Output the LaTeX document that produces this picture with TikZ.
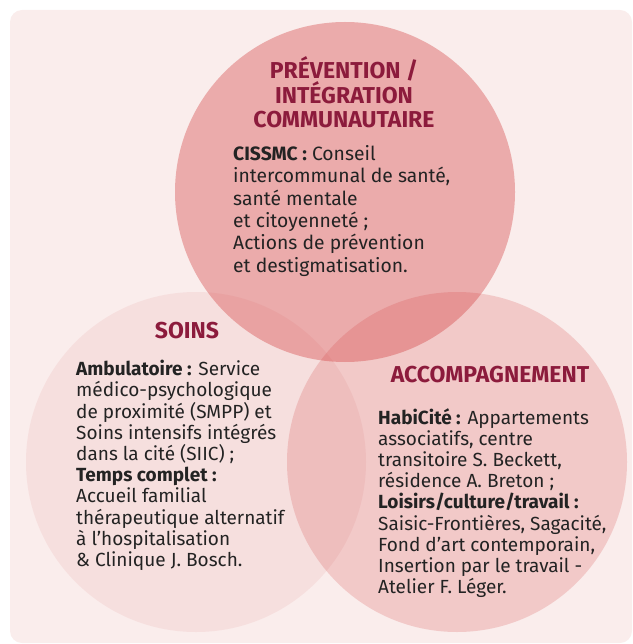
\documentclass[tikz,border=0pt]{standalone}
\usepackage{fontspec}
\setmainfont{Fira Sans}
\usetikzlibrary{positioning}
\definecolor{venn}{RGB}{210,60,60}
\definecolor{panelpink}{RGB}{250,237,236}
\definecolor{titlered}{RGB}{140,27,60}
\definecolor{bodytext}{RGB}{35,35,35}

\begin{document}
\begin{tikzpicture}[
    x=1pt, y=-1pt,
    zone/.style={circle, fill=venn, minimum size=340pt, inner sep=0pt},
    heading/.style={font=\bfseries\fontsize{23}{23.5}\selectfont, text=titlered, align=center, inner sep=0pt, anchor=north},
    body/.style={font=\fontsize{19.3}{22.4}\selectfont, text=bodytext, align=left, inner sep=0pt, anchor=north west},
    tight/.style={font=\fontsize{19}{21.2}\selectfont}
  ]
  \useasboundingbox (0,0) rectangle (632,644);

  % Panel
  \fill[panelpink, rounded corners=12pt] (10,10) rectangle (632,643);

  % Circles
  \node[zone, fill opacity=0.37] (prev) at (345,192) {};
  \node[zone, fill opacity=0.08] (soins) at (196,462) {};
  \node[zone, fill opacity=0.20] (accomp) at (457,462) {};

  % Prevention
  \node[heading] (prevtitle) at (344,56) {PRÉVENTION /\\INTÉGRATION\\COMMUNAUTAIRE};
  \node[body] (prevtext) at (233,145) {\textbf{CISSMC :} Conseil\\
    intercommunal de santé,\\
    santé mentale\\
    et citoyenneté ;\\
    Actions de prévention\\
    et destigmatisation.};

  % Soins
  \node[heading] (soinstitle) at (187,322) {SOINS};
  \node[body, tight] (soinstext) at (76,360) {\textbf{Ambulatoire :} Service\\
    médico-psychologique\\
    de proximité (SMPP) et\\
    Soins intensifs intégrés\\
    dans la cité (SIIC) ;\\
    \textbf{Temps complet :}\\
    Accueil familial\\
    thérapeutique alternatif\\
    à l’hospitalisation\\
    \& Clinique J. Bosch.};

  % Accompagnement
  \node[heading] (accomptitle) at (490,366) {ACCOMPAGNEMENT};
  \node[body, tight] (accomptext) at (378,408) {\textbf{HabiCité :} Appartements\\
    associatifs, centre\\
    transitoire S. Beckett,\\
    résidence A. Breton ;\\
    \textbf{Loisirs/culture/travail :}\\
    Saisic-Frontières, Sagacité,\\
    Fond d’art contemporain,\\
    Insertion par le travail -\\
    Atelier F. Léger.};
\end{tikzpicture}
\end{document}
